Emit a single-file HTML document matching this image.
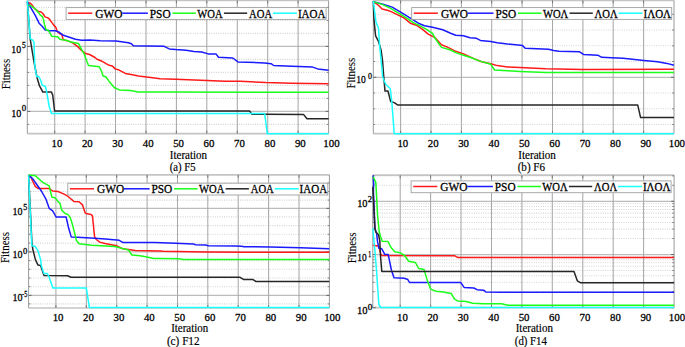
<!DOCTYPE html>
<html><head><meta charset="utf-8"><style>
html,body{margin:0;padding:0;background:#fff;}
body{width:685px;height:347px;overflow:hidden;font-family:"Liberation Serif",serif;}
svg{display:block;}
text{fill:#000;}
</style></head><body>
<svg width="685" height="347" viewBox="0 0 685 347" font-family='"Liberation Serif", serif'>
<rect width="685" height="347" fill="#fff"/>
<line x1="27.3" y1="124.4" x2="328.6" y2="124.4" stroke="#d0d0d0" stroke-width="1.1" stroke-dasharray="0.9 1.4"/>
<line x1="27.3" y1="98.4" x2="328.6" y2="98.4" stroke="#d0d0d0" stroke-width="1.1" stroke-dasharray="0.9 1.4"/>
<line x1="27.3" y1="85.4" x2="328.6" y2="85.4" stroke="#d0d0d0" stroke-width="1.1" stroke-dasharray="0.9 1.4"/>
<line x1="27.3" y1="72.4" x2="328.6" y2="72.4" stroke="#d0d0d0" stroke-width="1.1" stroke-dasharray="0.9 1.4"/>
<line x1="27.3" y1="59.4" x2="328.6" y2="59.4" stroke="#d0d0d0" stroke-width="1.1" stroke-dasharray="0.9 1.4"/>
<line x1="27.3" y1="33.4" x2="328.6" y2="33.4" stroke="#d0d0d0" stroke-width="1.1" stroke-dasharray="0.9 1.4"/>
<line x1="27.3" y1="20.4" x2="328.6" y2="20.4" stroke="#d0d0d0" stroke-width="1.1" stroke-dasharray="0.9 1.4"/>
<line x1="27.3" y1="7.4" x2="328.6" y2="7.4" stroke="#d0d0d0" stroke-width="1.1" stroke-dasharray="0.9 1.4"/>
<line x1="27.3" y1="111.4" x2="328.6" y2="111.4" stroke="#bcbcbc" stroke-width="1.25"/>
<line x1="27.3" y1="46.4" x2="328.6" y2="46.4" stroke="#bcbcbc" stroke-width="1.25"/>
<line x1="54.7" y1="0.4" x2="54.7" y2="133.6" stroke="#a8a8a8" stroke-width="1.05"/>
<line x1="85.1" y1="0.4" x2="85.1" y2="133.6" stroke="#a8a8a8" stroke-width="1.05"/>
<line x1="115.5" y1="0.4" x2="115.5" y2="133.6" stroke="#a8a8a8" stroke-width="1.05"/>
<line x1="146.0" y1="0.4" x2="146.0" y2="133.6" stroke="#a8a8a8" stroke-width="1.05"/>
<line x1="176.4" y1="0.4" x2="176.4" y2="133.6" stroke="#a8a8a8" stroke-width="1.05"/>
<line x1="206.8" y1="0.4" x2="206.8" y2="133.6" stroke="#a8a8a8" stroke-width="1.05"/>
<line x1="237.3" y1="0.4" x2="237.3" y2="133.6" stroke="#a8a8a8" stroke-width="1.05"/>
<line x1="267.7" y1="0.4" x2="267.7" y2="133.6" stroke="#a8a8a8" stroke-width="1.05"/>
<line x1="298.1" y1="0.4" x2="298.1" y2="133.6" stroke="#a8a8a8" stroke-width="1.05"/>
<line x1="27.3" y1="0.4" x2="328.6" y2="0.4" stroke="#c4c4c4" stroke-width="1.7"/>
<line x1="27.3" y1="133.6" x2="328.6" y2="133.6" stroke="#c4c4c4" stroke-width="1.7"/>
<line x1="27.3" y1="0.4" x2="27.3" y2="133.6" stroke="#9a9a9a" stroke-width="1"/>
<line x1="328.6" y1="0.4" x2="328.6" y2="133.6" stroke="#9a9a9a" stroke-width="1"/>
<line x1="27.3" y1="111.4" x2="30.3" y2="111.4" stroke="#666" stroke-width="1"/>
<line x1="325.6" y1="111.4" x2="328.6" y2="111.4" stroke="#666" stroke-width="1"/>
<line x1="27.3" y1="46.4" x2="30.3" y2="46.4" stroke="#666" stroke-width="1"/>
<line x1="325.6" y1="46.4" x2="328.6" y2="46.4" stroke="#666" stroke-width="1"/>
<line x1="27.3" y1="124.4" x2="29.1" y2="124.4" stroke="#777" stroke-width="0.9"/>
<line x1="326.8" y1="124.4" x2="328.6" y2="124.4" stroke="#777" stroke-width="0.9"/>
<line x1="27.3" y1="98.4" x2="29.1" y2="98.4" stroke="#777" stroke-width="0.9"/>
<line x1="326.8" y1="98.4" x2="328.6" y2="98.4" stroke="#777" stroke-width="0.9"/>
<line x1="27.3" y1="85.4" x2="29.1" y2="85.4" stroke="#777" stroke-width="0.9"/>
<line x1="326.8" y1="85.4" x2="328.6" y2="85.4" stroke="#777" stroke-width="0.9"/>
<line x1="27.3" y1="72.4" x2="29.1" y2="72.4" stroke="#777" stroke-width="0.9"/>
<line x1="326.8" y1="72.4" x2="328.6" y2="72.4" stroke="#777" stroke-width="0.9"/>
<line x1="27.3" y1="59.4" x2="29.1" y2="59.4" stroke="#777" stroke-width="0.9"/>
<line x1="326.8" y1="59.4" x2="328.6" y2="59.4" stroke="#777" stroke-width="0.9"/>
<line x1="27.3" y1="33.4" x2="29.1" y2="33.4" stroke="#777" stroke-width="0.9"/>
<line x1="326.8" y1="33.4" x2="328.6" y2="33.4" stroke="#777" stroke-width="0.9"/>
<line x1="27.3" y1="20.4" x2="29.1" y2="20.4" stroke="#777" stroke-width="0.9"/>
<line x1="326.8" y1="20.4" x2="328.6" y2="20.4" stroke="#777" stroke-width="0.9"/>
<line x1="27.3" y1="7.4" x2="29.1" y2="7.4" stroke="#777" stroke-width="0.9"/>
<line x1="326.8" y1="7.4" x2="328.6" y2="7.4" stroke="#777" stroke-width="0.9"/>
<line x1="54.7" y1="130.6" x2="54.7" y2="133.6" stroke="#777" stroke-width="1"/>
<line x1="54.7" y1="0.4" x2="54.7" y2="3.4" stroke="#777" stroke-width="1"/>
<line x1="85.1" y1="130.6" x2="85.1" y2="133.6" stroke="#777" stroke-width="1"/>
<line x1="85.1" y1="0.4" x2="85.1" y2="3.4" stroke="#777" stroke-width="1"/>
<line x1="115.5" y1="130.6" x2="115.5" y2="133.6" stroke="#777" stroke-width="1"/>
<line x1="115.5" y1="0.4" x2="115.5" y2="3.4" stroke="#777" stroke-width="1"/>
<line x1="146.0" y1="130.6" x2="146.0" y2="133.6" stroke="#777" stroke-width="1"/>
<line x1="146.0" y1="0.4" x2="146.0" y2="3.4" stroke="#777" stroke-width="1"/>
<line x1="176.4" y1="130.6" x2="176.4" y2="133.6" stroke="#777" stroke-width="1"/>
<line x1="176.4" y1="0.4" x2="176.4" y2="3.4" stroke="#777" stroke-width="1"/>
<line x1="206.8" y1="130.6" x2="206.8" y2="133.6" stroke="#777" stroke-width="1"/>
<line x1="206.8" y1="0.4" x2="206.8" y2="3.4" stroke="#777" stroke-width="1"/>
<line x1="237.3" y1="130.6" x2="237.3" y2="133.6" stroke="#777" stroke-width="1"/>
<line x1="237.3" y1="0.4" x2="237.3" y2="3.4" stroke="#777" stroke-width="1"/>
<line x1="267.7" y1="130.6" x2="267.7" y2="133.6" stroke="#777" stroke-width="1"/>
<line x1="267.7" y1="0.4" x2="267.7" y2="3.4" stroke="#777" stroke-width="1"/>
<line x1="298.1" y1="130.6" x2="298.1" y2="133.6" stroke="#777" stroke-width="1"/>
<line x1="298.1" y1="0.4" x2="298.1" y2="3.4" stroke="#777" stroke-width="1"/>
<polyline points="27.4,2.4 28.7,3.1 30.1,3.1 31.8,4.8 33.9,7.6 36.0,9.7 38.4,11.4 40.8,11.8 42.9,13.5 45.0,16.9 47.4,17.6 49.1,18.7 51.0,21.4 53.7,25.1 55.7,27.1 57.2,31.2 59.7,33.7 61.7,34.2 63.2,39.6 66.3,40.6 70.0,41.6 73.4,43.4 77.5,46.4 81.5,50.4 85.5,53.5 89.6,54.5 95.0,57.5 97.1,59.3 102.1,61.3 109.2,65.3 112.2,65.9 115.2,68.9 118.2,69.7 125.3,73.4 132.4,74.8 138.4,76.0 146.5,77.0 154.6,78.0 160.2,78.8 175.7,79.3 206.9,80.6 225.0,81.3 240.0,81.3 265.9,82.6 291.9,83.2 328.6,83.7" fill="none" stroke="#ff1a1a" stroke-width="1.5" stroke-linejoin="round" stroke-linecap="butt"/>
<polyline points="27.4,2.0 31.1,8.1 35.1,15.1 39.1,23.2 42.1,26.2 45.2,29.9 49.2,30.7 55.3,30.7 59.3,32.3 63.3,35.3 69.4,37.3 75.4,39.3 81.5,40.3 90.0,40.1 100.1,40.7 116.2,41.1 128.3,42.7 131.4,43.7 133.4,45.7 164.1,46.3 169.3,48.9 175.7,49.5 186.1,50.2 193.9,51.5 201.7,52.0 208.2,53.9 216.0,53.9 218.5,57.2 232.8,58.0 238.0,61.9 264.6,62.9 271.1,63.7 273.7,65.5 291.9,66.3 312.6,67.1 317.8,68.9 328.6,70.2" fill="none" stroke="#1a1aff" stroke-width="1.5" stroke-linejoin="round" stroke-linecap="butt"/>
<polyline points="27.4,4.5 28.4,5.2 30.5,5.5 33.2,7.3 36.0,9.7 38.4,12.4 40.1,14.9 42.6,16.9 43.6,20.1 44.5,24.5 46.1,29.7 48.1,30.2 50.1,33.2 51.6,36.2 57.7,36.7 59.7,39.3 62.2,39.8 66.3,40.3 70.0,41.8 73.4,42.4 78.5,43.4 81.5,49.4 84.5,54.5 86.5,60.5 88.5,65.6 95.0,66.2 99.1,66.7 101.1,70.3 103.1,76.0 105.7,76.8 109.2,81.4 114.2,87.5 119.3,89.9 130.3,90.5 138.4,91.9 160.0,92.1 328.6,92.2" fill="none" stroke="#1aff1a" stroke-width="1.5" stroke-linejoin="round" stroke-linecap="butt"/>
<polyline points="27.4,1.5 30.2,39.2 34.2,63.0 37.1,77.7 39.4,85.7 42.9,92.1 51.5,92.1 52.7,95.0 54.6,111.0 249.6,111.0 251.8,114.2 264.6,114.3 303.7,114.6 307.0,118.8 328.6,118.8" fill="none" stroke="#262626" stroke-width="1.5" stroke-linejoin="round" stroke-linecap="butt"/>
<polyline points="27.3,0.6 30.2,38.6 33.1,40.4 34.0,42.7 34.8,65.0 36.5,76.5 38.8,76.5 40.6,80.0 42.3,85.2 45.2,86.3 46.3,89.8 49.2,106.5 51.5,113.6 264.7,113.6 267.3,133.8 328.6,133.8" fill="none" stroke="#1affff" stroke-width="1.5" stroke-linejoin="round" stroke-linecap="butt"/>
<rect x="66.1" y="7.6" width="260.0" height="11.8" fill="#fff" stroke="#a0a0a0" stroke-width="0.9"/>
<line x1="68.2" y1="13.2" x2="92.3" y2="13.2" stroke="#ff1a1a" stroke-width="1.5"/>
<line x1="122.3" y1="13.2" x2="147.9" y2="13.2" stroke="#1a1aff" stroke-width="1.5"/>
<line x1="172.4" y1="13.2" x2="195.9" y2="13.2" stroke="#1aff1a" stroke-width="1.5"/>
<line x1="223.9" y1="13.2" x2="247.2" y2="13.2" stroke="#262626" stroke-width="1.5"/>
<line x1="273.0" y1="13.2" x2="296.9" y2="13.2" stroke="#1affff" stroke-width="1.5"/>
<text x="95.3" y="17.7" font-size="11.5" font-weight="normal" textLength="27.2" lengthAdjust="spacingAndGlyphs" stroke="#000" stroke-width="0.28">GWO</text>
<text x="149.8" y="17.7" font-size="11.5" font-weight="normal" textLength="20.8" lengthAdjust="spacingAndGlyphs" stroke="#000" stroke-width="0.28">PSO</text>
<text x="197.3" y="17.7" font-size="11.5" font-weight="normal" textLength="25.3" lengthAdjust="spacingAndGlyphs" stroke="#000" stroke-width="0.28">WOA</text>
<text x="249.0" y="17.7" font-size="11.5" font-weight="normal" textLength="23.1" lengthAdjust="spacingAndGlyphs" stroke="#000" stroke-width="0.28">AOA</text>
<text x="297.9" y="17.7" font-size="11.5" font-weight="normal" textLength="27.6" lengthAdjust="spacingAndGlyphs" stroke="#000" stroke-width="0.28">IAOA</text>
<text x="56.9" y="147.0" font-size="11.0" font-weight="normal" text-anchor="middle" textLength="10.8" lengthAdjust="spacingAndGlyphs" stroke="#000" stroke-width="0.28">10</text>
<text x="87.3" y="147.0" font-size="11.0" font-weight="normal" text-anchor="middle" textLength="10.8" lengthAdjust="spacingAndGlyphs" stroke="#000" stroke-width="0.28">20</text>
<text x="117.7" y="147.0" font-size="11.0" font-weight="normal" text-anchor="middle" textLength="10.8" lengthAdjust="spacingAndGlyphs" stroke="#000" stroke-width="0.28">30</text>
<text x="148.2" y="147.0" font-size="11.0" font-weight="normal" text-anchor="middle" textLength="10.8" lengthAdjust="spacingAndGlyphs" stroke="#000" stroke-width="0.28">40</text>
<text x="178.6" y="147.0" font-size="11.0" font-weight="normal" text-anchor="middle" textLength="10.8" lengthAdjust="spacingAndGlyphs" stroke="#000" stroke-width="0.28">50</text>
<text x="209.0" y="147.0" font-size="11.0" font-weight="normal" text-anchor="middle" textLength="10.8" lengthAdjust="spacingAndGlyphs" stroke="#000" stroke-width="0.28">60</text>
<text x="239.5" y="147.0" font-size="11.0" font-weight="normal" text-anchor="middle" textLength="10.8" lengthAdjust="spacingAndGlyphs" stroke="#000" stroke-width="0.28">70</text>
<text x="269.9" y="147.0" font-size="11.0" font-weight="normal" text-anchor="middle" textLength="10.8" lengthAdjust="spacingAndGlyphs" stroke="#000" stroke-width="0.28">80</text>
<text x="300.3" y="147.0" font-size="11.0" font-weight="normal" text-anchor="middle" textLength="10.8" lengthAdjust="spacingAndGlyphs" stroke="#000" stroke-width="0.28">90</text>
<text x="331.5" y="147.0" font-size="11.0" font-weight="normal" text-anchor="middle" textLength="16.3" lengthAdjust="spacingAndGlyphs" stroke="#000" stroke-width="0.28">100</text>
<text x="11.3" y="52.7" font-size="11.0" font-weight="normal" textLength="9.8" lengthAdjust="spacingAndGlyphs" stroke="#000" stroke-width="0.28">10</text>
<text x="22.1" y="48.1" font-size="8.0" font-weight="normal" textLength="3.8" lengthAdjust="spacingAndGlyphs" stroke="#000" stroke-width="0.28">5</text>
<text x="11.3" y="117.0" font-size="11.0" font-weight="normal" textLength="10.1" lengthAdjust="spacingAndGlyphs" stroke="#000" stroke-width="0.28">10</text>
<text x="21.8" y="110.7" font-size="8.0" font-weight="normal" textLength="4.4" lengthAdjust="spacingAndGlyphs" stroke="#000" stroke-width="0.28">0</text>
<text x="0" y="0" font-size="11.5" stroke="#000" stroke-width="0.12" text-anchor="middle" textLength="30.5" lengthAdjust="spacingAndGlyphs" transform="translate(10.4,74.0) rotate(-90)">Fitness</text>
<text x="169.8" y="158.8" font-size="11.5" font-weight="normal" textLength="37.3" lengthAdjust="spacingAndGlyphs" stroke="#000" stroke-width="0.18">Iteration</text>
<text x="169.8" y="171.0" font-size="11.5" font-weight="normal" textLength="25.8" lengthAdjust="spacingAndGlyphs" stroke="#000" stroke-width="0.18">(a) F5</text>
<line x1="373.3" y1="124.5" x2="674.0" y2="124.5" stroke="#d0d0d0" stroke-width="1.1" stroke-dasharray="0.9 1.4"/>
<line x1="373.3" y1="108.8" x2="674.0" y2="108.8" stroke="#d0d0d0" stroke-width="1.1" stroke-dasharray="0.9 1.4"/>
<line x1="373.3" y1="93.0" x2="674.0" y2="93.0" stroke="#d0d0d0" stroke-width="1.1" stroke-dasharray="0.9 1.4"/>
<line x1="373.3" y1="61.5" x2="674.0" y2="61.5" stroke="#d0d0d0" stroke-width="1.1" stroke-dasharray="0.9 1.4"/>
<line x1="373.3" y1="45.8" x2="674.0" y2="45.8" stroke="#d0d0d0" stroke-width="1.1" stroke-dasharray="0.9 1.4"/>
<line x1="373.3" y1="30.0" x2="674.0" y2="30.0" stroke="#d0d0d0" stroke-width="1.1" stroke-dasharray="0.9 1.4"/>
<line x1="373.3" y1="14.3" x2="674.0" y2="14.3" stroke="#d0d0d0" stroke-width="1.1" stroke-dasharray="0.9 1.4"/>
<line x1="373.3" y1="77.3" x2="674.0" y2="77.3" stroke="#bcbcbc" stroke-width="1.25"/>
<line x1="400.6" y1="0.4" x2="400.6" y2="133.7" stroke="#a8a8a8" stroke-width="1.05"/>
<line x1="431.0" y1="0.4" x2="431.0" y2="133.7" stroke="#a8a8a8" stroke-width="1.05"/>
<line x1="461.4" y1="0.4" x2="461.4" y2="133.7" stroke="#a8a8a8" stroke-width="1.05"/>
<line x1="491.7" y1="0.4" x2="491.7" y2="133.7" stroke="#a8a8a8" stroke-width="1.05"/>
<line x1="522.1" y1="0.4" x2="522.1" y2="133.7" stroke="#a8a8a8" stroke-width="1.05"/>
<line x1="552.5" y1="0.4" x2="552.5" y2="133.7" stroke="#a8a8a8" stroke-width="1.05"/>
<line x1="582.9" y1="0.4" x2="582.9" y2="133.7" stroke="#a8a8a8" stroke-width="1.05"/>
<line x1="613.2" y1="0.4" x2="613.2" y2="133.7" stroke="#a8a8a8" stroke-width="1.05"/>
<line x1="643.6" y1="0.4" x2="643.6" y2="133.7" stroke="#a8a8a8" stroke-width="1.05"/>
<line x1="373.3" y1="0.4" x2="674.0" y2="0.4" stroke="#c4c4c4" stroke-width="1.7"/>
<line x1="373.3" y1="133.7" x2="674.0" y2="133.7" stroke="#c4c4c4" stroke-width="1.7"/>
<line x1="373.3" y1="0.4" x2="373.3" y2="133.7" stroke="#9a9a9a" stroke-width="1"/>
<line x1="674.0" y1="0.4" x2="674.0" y2="133.7" stroke="#9a9a9a" stroke-width="1"/>
<line x1="373.3" y1="77.3" x2="376.3" y2="77.3" stroke="#666" stroke-width="1"/>
<line x1="671.0" y1="77.3" x2="674.0" y2="77.3" stroke="#666" stroke-width="1"/>
<line x1="373.3" y1="124.5" x2="375.1" y2="124.5" stroke="#777" stroke-width="0.9"/>
<line x1="672.2" y1="124.5" x2="674.0" y2="124.5" stroke="#777" stroke-width="0.9"/>
<line x1="373.3" y1="108.8" x2="375.1" y2="108.8" stroke="#777" stroke-width="0.9"/>
<line x1="672.2" y1="108.8" x2="674.0" y2="108.8" stroke="#777" stroke-width="0.9"/>
<line x1="373.3" y1="93.0" x2="375.1" y2="93.0" stroke="#777" stroke-width="0.9"/>
<line x1="672.2" y1="93.0" x2="674.0" y2="93.0" stroke="#777" stroke-width="0.9"/>
<line x1="373.3" y1="61.5" x2="375.1" y2="61.5" stroke="#777" stroke-width="0.9"/>
<line x1="672.2" y1="61.5" x2="674.0" y2="61.5" stroke="#777" stroke-width="0.9"/>
<line x1="373.3" y1="45.8" x2="375.1" y2="45.8" stroke="#777" stroke-width="0.9"/>
<line x1="672.2" y1="45.8" x2="674.0" y2="45.8" stroke="#777" stroke-width="0.9"/>
<line x1="373.3" y1="30.0" x2="375.1" y2="30.0" stroke="#777" stroke-width="0.9"/>
<line x1="672.2" y1="30.0" x2="674.0" y2="30.0" stroke="#777" stroke-width="0.9"/>
<line x1="373.3" y1="14.3" x2="375.1" y2="14.3" stroke="#777" stroke-width="0.9"/>
<line x1="672.2" y1="14.3" x2="674.0" y2="14.3" stroke="#777" stroke-width="0.9"/>
<line x1="400.6" y1="130.7" x2="400.6" y2="133.7" stroke="#777" stroke-width="1"/>
<line x1="400.6" y1="0.4" x2="400.6" y2="3.4" stroke="#777" stroke-width="1"/>
<line x1="431.0" y1="130.7" x2="431.0" y2="133.7" stroke="#777" stroke-width="1"/>
<line x1="431.0" y1="0.4" x2="431.0" y2="3.4" stroke="#777" stroke-width="1"/>
<line x1="461.4" y1="130.7" x2="461.4" y2="133.7" stroke="#777" stroke-width="1"/>
<line x1="461.4" y1="0.4" x2="461.4" y2="3.4" stroke="#777" stroke-width="1"/>
<line x1="491.7" y1="130.7" x2="491.7" y2="133.7" stroke="#777" stroke-width="1"/>
<line x1="491.7" y1="0.4" x2="491.7" y2="3.4" stroke="#777" stroke-width="1"/>
<line x1="522.1" y1="130.7" x2="522.1" y2="133.7" stroke="#777" stroke-width="1"/>
<line x1="522.1" y1="0.4" x2="522.1" y2="3.4" stroke="#777" stroke-width="1"/>
<line x1="552.5" y1="130.7" x2="552.5" y2="133.7" stroke="#777" stroke-width="1"/>
<line x1="552.5" y1="0.4" x2="552.5" y2="3.4" stroke="#777" stroke-width="1"/>
<line x1="582.9" y1="130.7" x2="582.9" y2="133.7" stroke="#777" stroke-width="1"/>
<line x1="582.9" y1="0.4" x2="582.9" y2="3.4" stroke="#777" stroke-width="1"/>
<line x1="613.2" y1="130.7" x2="613.2" y2="133.7" stroke="#777" stroke-width="1"/>
<line x1="613.2" y1="0.4" x2="613.2" y2="3.4" stroke="#777" stroke-width="1"/>
<line x1="643.6" y1="130.7" x2="643.6" y2="133.7" stroke="#777" stroke-width="1"/>
<line x1="643.6" y1="0.4" x2="643.6" y2="3.4" stroke="#777" stroke-width="1"/>
<polyline points="373.3,1.6 378.1,5.0 382.1,9.1 388.2,10.5 392.2,12.1 400.3,16.1 404.3,18.2 410.3,23.2 416.4,25.2 422.5,29.3 428.5,34.3 434.6,37.3 441.5,44.8 448.0,47.4 455.7,51.3 463.5,53.9 473.9,58.6 481.7,61.7 490.8,63.8 497.2,65.6 507.6,66.9 520.0,67.4 545.9,68.7 582.2,69.5 674.0,69.3" fill="none" stroke="#ff1a1a" stroke-width="1.5" stroke-linejoin="round" stroke-linecap="butt"/>
<polyline points="373.3,1.6 382.1,4.0 392.2,7.1 402.3,13.1 410.3,18.2 418.4,23.2 424.5,25.8 432.5,27.2 442.8,29.8 450.6,33.2 455.7,35.2 463.5,35.7 470.0,37.8 476.5,38.3 480.4,40.4 490.8,41.5 497.2,42.7 507.6,44.0 520.6,45.3 522.6,45.6 525.2,48.2 548.5,49.2 553.7,50.5 558.9,51.3 579.6,51.8 583.5,54.4 597.8,55.2 601.7,57.3 611.5,57.7 623.1,58.3 634.6,59.5 643.8,60.4 657.6,61.8 666.9,63.4 674.0,65.3" fill="none" stroke="#1a1aff" stroke-width="1.5" stroke-linejoin="round" stroke-linecap="butt"/>
<polyline points="373.3,1.6 382.1,4.4 390.2,8.1 400.3,14.1 408.3,19.2 412.4,22.2 418.4,25.2 426.5,29.3 432.5,33.3 435.0,38.3 441.5,47.4 450.6,50.0 455.7,52.6 463.5,55.2 471.3,57.8 479.1,60.9 490.8,64.3 494.6,70.0 507.6,70.8 520.0,71.5 545.9,72.4 674.0,72.4" fill="none" stroke="#1aff1a" stroke-width="1.5" stroke-linejoin="round" stroke-linecap="butt"/>
<polyline points="373.3,1.0 374.0,20.1 375.6,35.8 378.5,41.3 381.1,50.3 382.5,60.4 383.8,77.3 385.0,91.1 388.0,91.1 390.7,101.5 394.2,102.6 397.6,104.9 637.7,104.9 640.6,117.6 674.0,117.6" fill="none" stroke="#262626" stroke-width="1.5" stroke-linejoin="round" stroke-linecap="butt"/>
<polyline points="373.3,1.0 376.0,22.1 378.5,28.2 379.7,46.3 381.1,60.4 382.7,77.3 385.7,84.2 390.3,88.8 391.9,102.6 394.2,133.7 674.0,133.7" fill="none" stroke="#1affff" stroke-width="1.5" stroke-linejoin="round" stroke-linecap="butt"/>
<rect x="411.7" y="7.6" width="260.0" height="11.8" fill="#fff" stroke="#a0a0a0" stroke-width="0.9"/>
<line x1="413.8" y1="13.2" x2="437.9" y2="13.2" stroke="#ff1a1a" stroke-width="1.5"/>
<line x1="467.9" y1="13.2" x2="493.5" y2="13.2" stroke="#1a1aff" stroke-width="1.5"/>
<line x1="518.0" y1="13.2" x2="541.5" y2="13.2" stroke="#1aff1a" stroke-width="1.5"/>
<line x1="569.5" y1="13.2" x2="592.8" y2="13.2" stroke="#262626" stroke-width="1.5"/>
<line x1="618.6" y1="13.2" x2="642.5" y2="13.2" stroke="#1affff" stroke-width="1.5"/>
<text x="440.9" y="17.7" font-size="11.5" font-weight="normal" textLength="27.2" lengthAdjust="spacingAndGlyphs" stroke="#000" stroke-width="0.28">GWO</text>
<text x="495.4" y="17.7" font-size="11.5" font-weight="normal" textLength="20.8" lengthAdjust="spacingAndGlyphs" stroke="#000" stroke-width="0.28">PSO</text>
<text x="542.9" y="17.7" font-size="11.5" font-weight="normal" textLength="25.3" lengthAdjust="spacingAndGlyphs" stroke="#000" stroke-width="0.28">WO&#923;</text>
<text x="594.6" y="17.7" font-size="11.5" font-weight="normal" textLength="23.1" lengthAdjust="spacingAndGlyphs" stroke="#000" stroke-width="0.28">&#923;O&#923;</text>
<text x="643.5" y="17.7" font-size="11.5" font-weight="normal" textLength="27.6" lengthAdjust="spacingAndGlyphs" stroke="#000" stroke-width="0.28">I&#923;O&#923;</text>
<text x="402.8" y="147.0" font-size="11.0" font-weight="normal" text-anchor="middle" textLength="10.8" lengthAdjust="spacingAndGlyphs" stroke="#000" stroke-width="0.28">10</text>
<text x="433.2" y="147.0" font-size="11.0" font-weight="normal" text-anchor="middle" textLength="10.8" lengthAdjust="spacingAndGlyphs" stroke="#000" stroke-width="0.28">20</text>
<text x="463.6" y="147.0" font-size="11.0" font-weight="normal" text-anchor="middle" textLength="10.8" lengthAdjust="spacingAndGlyphs" stroke="#000" stroke-width="0.28">30</text>
<text x="493.9" y="147.0" font-size="11.0" font-weight="normal" text-anchor="middle" textLength="10.8" lengthAdjust="spacingAndGlyphs" stroke="#000" stroke-width="0.28">40</text>
<text x="524.3" y="147.0" font-size="11.0" font-weight="normal" text-anchor="middle" textLength="10.8" lengthAdjust="spacingAndGlyphs" stroke="#000" stroke-width="0.28">50</text>
<text x="554.7" y="147.0" font-size="11.0" font-weight="normal" text-anchor="middle" textLength="10.8" lengthAdjust="spacingAndGlyphs" stroke="#000" stroke-width="0.28">60</text>
<text x="585.1" y="147.0" font-size="11.0" font-weight="normal" text-anchor="middle" textLength="10.8" lengthAdjust="spacingAndGlyphs" stroke="#000" stroke-width="0.28">70</text>
<text x="615.4" y="147.0" font-size="11.0" font-weight="normal" text-anchor="middle" textLength="10.8" lengthAdjust="spacingAndGlyphs" stroke="#000" stroke-width="0.28">80</text>
<text x="645.8" y="147.0" font-size="11.0" font-weight="normal" text-anchor="middle" textLength="10.8" lengthAdjust="spacingAndGlyphs" stroke="#000" stroke-width="0.28">90</text>
<text x="676.9" y="147.0" font-size="11.0" font-weight="normal" text-anchor="middle" textLength="16.3" lengthAdjust="spacingAndGlyphs" stroke="#000" stroke-width="0.28">100</text>
<text x="356.2" y="82.9" font-size="11.0" font-weight="normal" textLength="9.5" lengthAdjust="spacingAndGlyphs" stroke="#000" stroke-width="0.28">10</text>
<text x="367.9" y="78.5" font-size="8.0" font-weight="normal" textLength="4.0" lengthAdjust="spacingAndGlyphs" stroke="#000" stroke-width="0.28">0</text>
<text x="0" y="0" font-size="11.5" stroke="#000" stroke-width="0.12" text-anchor="middle" textLength="30.7" lengthAdjust="spacingAndGlyphs" transform="translate(355.1,73.2) rotate(-90)">Fitness</text>
<text x="518.2" y="158.8" font-size="11.5" font-weight="normal" textLength="37.7" lengthAdjust="spacingAndGlyphs" stroke="#000" stroke-width="0.18">Iteration</text>
<text x="517.7" y="171.0" font-size="11.5" font-weight="normal" textLength="27.3" lengthAdjust="spacingAndGlyphs" stroke="#000" stroke-width="0.18">(b) F6</text>
<line x1="28.6" y1="182.9" x2="329.4" y2="182.9" stroke="#d0d0d0" stroke-width="1.1" stroke-dasharray="0.9 1.4"/>
<line x1="28.6" y1="191.5" x2="329.4" y2="191.5" stroke="#d0d0d0" stroke-width="1.1" stroke-dasharray="0.9 1.4"/>
<line x1="28.6" y1="200.1" x2="329.4" y2="200.1" stroke="#d0d0d0" stroke-width="1.1" stroke-dasharray="0.9 1.4"/>
<line x1="28.6" y1="216.9" x2="329.4" y2="216.9" stroke="#d0d0d0" stroke-width="1.1" stroke-dasharray="0.9 1.4"/>
<line x1="28.6" y1="225.6" x2="329.4" y2="225.6" stroke="#d0d0d0" stroke-width="1.1" stroke-dasharray="0.9 1.4"/>
<line x1="28.6" y1="234.3" x2="329.4" y2="234.3" stroke="#d0d0d0" stroke-width="1.1" stroke-dasharray="0.9 1.4"/>
<line x1="28.6" y1="243.1" x2="329.4" y2="243.1" stroke="#d0d0d0" stroke-width="1.1" stroke-dasharray="0.9 1.4"/>
<line x1="28.6" y1="260.6" x2="329.4" y2="260.6" stroke="#d0d0d0" stroke-width="1.1" stroke-dasharray="0.9 1.4"/>
<line x1="28.6" y1="269.3" x2="329.4" y2="269.3" stroke="#d0d0d0" stroke-width="1.1" stroke-dasharray="0.9 1.4"/>
<line x1="28.6" y1="278.0" x2="329.4" y2="278.0" stroke="#d0d0d0" stroke-width="1.1" stroke-dasharray="0.9 1.4"/>
<line x1="28.6" y1="286.7" x2="329.4" y2="286.7" stroke="#d0d0d0" stroke-width="1.1" stroke-dasharray="0.9 1.4"/>
<line x1="28.6" y1="303.9" x2="329.4" y2="303.9" stroke="#d0d0d0" stroke-width="1.1" stroke-dasharray="0.9 1.4"/>
<line x1="28.6" y1="295.4" x2="329.4" y2="295.4" stroke="#bcbcbc" stroke-width="1.25"/>
<line x1="28.6" y1="251.9" x2="329.4" y2="251.9" stroke="#bcbcbc" stroke-width="1.25"/>
<line x1="28.6" y1="208.4" x2="329.4" y2="208.4" stroke="#bcbcbc" stroke-width="1.25"/>
<line x1="55.9" y1="174.8" x2="55.9" y2="308.0" stroke="#a8a8a8" stroke-width="1.05"/>
<line x1="86.3" y1="174.8" x2="86.3" y2="308.0" stroke="#a8a8a8" stroke-width="1.05"/>
<line x1="116.7" y1="174.8" x2="116.7" y2="308.0" stroke="#a8a8a8" stroke-width="1.05"/>
<line x1="147.1" y1="174.8" x2="147.1" y2="308.0" stroke="#a8a8a8" stroke-width="1.05"/>
<line x1="177.5" y1="174.8" x2="177.5" y2="308.0" stroke="#a8a8a8" stroke-width="1.05"/>
<line x1="207.8" y1="174.8" x2="207.8" y2="308.0" stroke="#a8a8a8" stroke-width="1.05"/>
<line x1="238.2" y1="174.8" x2="238.2" y2="308.0" stroke="#a8a8a8" stroke-width="1.05"/>
<line x1="268.6" y1="174.8" x2="268.6" y2="308.0" stroke="#a8a8a8" stroke-width="1.05"/>
<line x1="299.0" y1="174.8" x2="299.0" y2="308.0" stroke="#a8a8a8" stroke-width="1.05"/>
<line x1="28.6" y1="174.8" x2="329.4" y2="174.8" stroke="#c4c4c4" stroke-width="1.7"/>
<line x1="28.6" y1="308.0" x2="329.4" y2="308.0" stroke="#c4c4c4" stroke-width="1.7"/>
<line x1="28.6" y1="174.8" x2="28.6" y2="308.0" stroke="#9a9a9a" stroke-width="1"/>
<line x1="329.4" y1="174.8" x2="329.4" y2="308.0" stroke="#9a9a9a" stroke-width="1"/>
<line x1="28.6" y1="295.4" x2="31.6" y2="295.4" stroke="#666" stroke-width="1"/>
<line x1="326.4" y1="295.4" x2="329.4" y2="295.4" stroke="#666" stroke-width="1"/>
<line x1="28.6" y1="251.9" x2="31.6" y2="251.9" stroke="#666" stroke-width="1"/>
<line x1="326.4" y1="251.9" x2="329.4" y2="251.9" stroke="#666" stroke-width="1"/>
<line x1="28.6" y1="208.4" x2="31.6" y2="208.4" stroke="#666" stroke-width="1"/>
<line x1="326.4" y1="208.4" x2="329.4" y2="208.4" stroke="#666" stroke-width="1"/>
<line x1="28.6" y1="182.9" x2="30.4" y2="182.9" stroke="#777" stroke-width="0.9"/>
<line x1="327.6" y1="182.9" x2="329.4" y2="182.9" stroke="#777" stroke-width="0.9"/>
<line x1="28.6" y1="191.5" x2="30.4" y2="191.5" stroke="#777" stroke-width="0.9"/>
<line x1="327.6" y1="191.5" x2="329.4" y2="191.5" stroke="#777" stroke-width="0.9"/>
<line x1="28.6" y1="200.1" x2="30.4" y2="200.1" stroke="#777" stroke-width="0.9"/>
<line x1="327.6" y1="200.1" x2="329.4" y2="200.1" stroke="#777" stroke-width="0.9"/>
<line x1="28.6" y1="216.9" x2="30.4" y2="216.9" stroke="#777" stroke-width="0.9"/>
<line x1="327.6" y1="216.9" x2="329.4" y2="216.9" stroke="#777" stroke-width="0.9"/>
<line x1="28.6" y1="225.6" x2="30.4" y2="225.6" stroke="#777" stroke-width="0.9"/>
<line x1="327.6" y1="225.6" x2="329.4" y2="225.6" stroke="#777" stroke-width="0.9"/>
<line x1="28.6" y1="234.3" x2="30.4" y2="234.3" stroke="#777" stroke-width="0.9"/>
<line x1="327.6" y1="234.3" x2="329.4" y2="234.3" stroke="#777" stroke-width="0.9"/>
<line x1="28.6" y1="243.1" x2="30.4" y2="243.1" stroke="#777" stroke-width="0.9"/>
<line x1="327.6" y1="243.1" x2="329.4" y2="243.1" stroke="#777" stroke-width="0.9"/>
<line x1="28.6" y1="260.6" x2="30.4" y2="260.6" stroke="#777" stroke-width="0.9"/>
<line x1="327.6" y1="260.6" x2="329.4" y2="260.6" stroke="#777" stroke-width="0.9"/>
<line x1="28.6" y1="269.3" x2="30.4" y2="269.3" stroke="#777" stroke-width="0.9"/>
<line x1="327.6" y1="269.3" x2="329.4" y2="269.3" stroke="#777" stroke-width="0.9"/>
<line x1="28.6" y1="278.0" x2="30.4" y2="278.0" stroke="#777" stroke-width="0.9"/>
<line x1="327.6" y1="278.0" x2="329.4" y2="278.0" stroke="#777" stroke-width="0.9"/>
<line x1="28.6" y1="286.7" x2="30.4" y2="286.7" stroke="#777" stroke-width="0.9"/>
<line x1="327.6" y1="286.7" x2="329.4" y2="286.7" stroke="#777" stroke-width="0.9"/>
<line x1="28.6" y1="303.9" x2="30.4" y2="303.9" stroke="#777" stroke-width="0.9"/>
<line x1="327.6" y1="303.9" x2="329.4" y2="303.9" stroke="#777" stroke-width="0.9"/>
<line x1="55.9" y1="305.0" x2="55.9" y2="308.0" stroke="#777" stroke-width="1"/>
<line x1="55.9" y1="174.8" x2="55.9" y2="177.8" stroke="#777" stroke-width="1"/>
<line x1="86.3" y1="305.0" x2="86.3" y2="308.0" stroke="#777" stroke-width="1"/>
<line x1="86.3" y1="174.8" x2="86.3" y2="177.8" stroke="#777" stroke-width="1"/>
<line x1="116.7" y1="305.0" x2="116.7" y2="308.0" stroke="#777" stroke-width="1"/>
<line x1="116.7" y1="174.8" x2="116.7" y2="177.8" stroke="#777" stroke-width="1"/>
<line x1="147.1" y1="305.0" x2="147.1" y2="308.0" stroke="#777" stroke-width="1"/>
<line x1="147.1" y1="174.8" x2="147.1" y2="177.8" stroke="#777" stroke-width="1"/>
<line x1="177.5" y1="305.0" x2="177.5" y2="308.0" stroke="#777" stroke-width="1"/>
<line x1="177.5" y1="174.8" x2="177.5" y2="177.8" stroke="#777" stroke-width="1"/>
<line x1="207.8" y1="305.0" x2="207.8" y2="308.0" stroke="#777" stroke-width="1"/>
<line x1="207.8" y1="174.8" x2="207.8" y2="177.8" stroke="#777" stroke-width="1"/>
<line x1="238.2" y1="305.0" x2="238.2" y2="308.0" stroke="#777" stroke-width="1"/>
<line x1="238.2" y1="174.8" x2="238.2" y2="177.8" stroke="#777" stroke-width="1"/>
<line x1="268.6" y1="305.0" x2="268.6" y2="308.0" stroke="#777" stroke-width="1"/>
<line x1="268.6" y1="174.8" x2="268.6" y2="177.8" stroke="#777" stroke-width="1"/>
<line x1="299.0" y1="305.0" x2="299.0" y2="308.0" stroke="#777" stroke-width="1"/>
<line x1="299.0" y1="174.8" x2="299.0" y2="177.8" stroke="#777" stroke-width="1"/>
<polyline points="28.6,175.1 31.1,177.2 32.8,181.5 35.4,186.7 38.0,188.4 49.2,188.4 52.7,191.0 57.9,191.5 63.0,193.6 67.8,196.2 70.4,198.5 73.8,201.4 79.0,201.8 82.5,204.9 85.1,212.7 86.0,213.5 91.1,214.4 92.5,216.1 94.6,236.9 96.3,239.5 99.8,242.1 105.0,243.5 110.0,244.4 116.9,245.8 122.7,248.8 128.4,249.5 135.3,250.4 160.0,251.1 163.1,251.3 205.4,251.9 245.0,252.3 329.3,252.3" fill="none" stroke="#ff1a1a" stroke-width="1.5" stroke-linejoin="round" stroke-linecap="butt"/>
<polyline points="28.6,175.1 32.8,178.9 37.1,185.0 41.4,191.0 45.8,198.8 49.2,208.3 52.7,210.9 56.1,217.0 66.1,217.0 68.7,228.3 71.2,236.9 77.3,237.2 94.6,238.3 105.4,238.9 119.2,240.3 122.7,242.4 155.0,242.4 175.2,243.2 193.3,243.9 195.4,244.7 205.4,244.9 208.5,245.7 235.7,245.9 241.8,246.3 244.0,246.7 270.3,246.9 300.5,247.7 329.3,248.7" fill="none" stroke="#1a1aff" stroke-width="1.5" stroke-linejoin="round" stroke-linecap="butt"/>
<polyline points="28.6,175.1 35.4,175.8 38.8,178.9 43.2,182.7 49.2,185.8 51.8,197.1 55.3,197.9 57.9,201.4 60.0,203.2 61.7,210.1 65.2,213.5 67.8,214.4 70.4,217.9 73.0,226.5 74.7,233.4 76.4,240.4 79.0,243.8 87.7,244.7 91.5,245.3 114.6,246.5 128.4,249.9 131.9,255.0 140.0,255.7 146.9,256.9 153.8,258.5 160.0,258.6 179.2,258.8 183.2,259.4 329.3,259.6" fill="none" stroke="#1aff1a" stroke-width="1.5" stroke-linejoin="round" stroke-linecap="butt"/>
<polyline points="28.6,175.1 31.9,242.3 32.8,249.2 35.4,259.6 38.0,265.1 40.6,265.6 44.0,275.5 67.6,275.7 71.0,277.2 239.7,277.2 243.8,279.6 253.1,279.6 256.1,281.6 329.3,281.6" fill="none" stroke="#262626" stroke-width="1.5" stroke-linejoin="round" stroke-linecap="butt"/>
<polyline points="28.6,175.1 31.3,235.0 31.9,245.8 35.4,246.6 38.0,250.9 40.6,259.6 41.2,265.0 43.8,273.4 47.0,273.4 49.0,276.7 52.9,288.1 86.3,288.1 89.4,307.6 329.3,307.6" fill="none" stroke="#1affff" stroke-width="1.5" stroke-linejoin="round" stroke-linecap="butt"/>
<rect x="67.8" y="183.2" width="260.0" height="11.8" fill="#fff" stroke="#a0a0a0" stroke-width="0.9"/>
<line x1="69.9" y1="188.8" x2="94.0" y2="188.8" stroke="#ff1a1a" stroke-width="1.5"/>
<line x1="124.0" y1="188.8" x2="149.6" y2="188.8" stroke="#1a1aff" stroke-width="1.5"/>
<line x1="174.1" y1="188.8" x2="197.6" y2="188.8" stroke="#1aff1a" stroke-width="1.5"/>
<line x1="225.6" y1="188.8" x2="248.9" y2="188.8" stroke="#262626" stroke-width="1.5"/>
<line x1="274.7" y1="188.8" x2="298.6" y2="188.8" stroke="#1affff" stroke-width="1.5"/>
<text x="97.0" y="193.3" font-size="11.5" font-weight="normal" textLength="27.2" lengthAdjust="spacingAndGlyphs" stroke="#000" stroke-width="0.28">GWO</text>
<text x="151.5" y="193.3" font-size="11.5" font-weight="normal" textLength="20.8" lengthAdjust="spacingAndGlyphs" stroke="#000" stroke-width="0.28">PSO</text>
<text x="199.0" y="193.3" font-size="11.5" font-weight="normal" textLength="25.3" lengthAdjust="spacingAndGlyphs" stroke="#000" stroke-width="0.28">WOA</text>
<text x="250.7" y="193.3" font-size="11.5" font-weight="normal" textLength="23.1" lengthAdjust="spacingAndGlyphs" stroke="#000" stroke-width="0.28">AOA</text>
<text x="299.6" y="193.3" font-size="11.5" font-weight="normal" textLength="27.6" lengthAdjust="spacingAndGlyphs" stroke="#000" stroke-width="0.28">IAOA</text>
<text x="58.1" y="321.3" font-size="11.0" font-weight="normal" text-anchor="middle" textLength="10.8" lengthAdjust="spacingAndGlyphs" stroke="#000" stroke-width="0.28">10</text>
<text x="88.5" y="321.3" font-size="11.0" font-weight="normal" text-anchor="middle" textLength="10.8" lengthAdjust="spacingAndGlyphs" stroke="#000" stroke-width="0.28">20</text>
<text x="118.9" y="321.3" font-size="11.0" font-weight="normal" text-anchor="middle" textLength="10.8" lengthAdjust="spacingAndGlyphs" stroke="#000" stroke-width="0.28">30</text>
<text x="149.3" y="321.3" font-size="11.0" font-weight="normal" text-anchor="middle" textLength="10.8" lengthAdjust="spacingAndGlyphs" stroke="#000" stroke-width="0.28">40</text>
<text x="179.7" y="321.3" font-size="11.0" font-weight="normal" text-anchor="middle" textLength="10.8" lengthAdjust="spacingAndGlyphs" stroke="#000" stroke-width="0.28">50</text>
<text x="210.0" y="321.3" font-size="11.0" font-weight="normal" text-anchor="middle" textLength="10.8" lengthAdjust="spacingAndGlyphs" stroke="#000" stroke-width="0.28">60</text>
<text x="240.4" y="321.3" font-size="11.0" font-weight="normal" text-anchor="middle" textLength="10.8" lengthAdjust="spacingAndGlyphs" stroke="#000" stroke-width="0.28">70</text>
<text x="270.8" y="321.3" font-size="11.0" font-weight="normal" text-anchor="middle" textLength="10.8" lengthAdjust="spacingAndGlyphs" stroke="#000" stroke-width="0.28">80</text>
<text x="301.2" y="321.3" font-size="11.0" font-weight="normal" text-anchor="middle" textLength="10.8" lengthAdjust="spacingAndGlyphs" stroke="#000" stroke-width="0.28">90</text>
<text x="332.3" y="321.3" font-size="11.0" font-weight="normal" text-anchor="middle" textLength="16.3" lengthAdjust="spacingAndGlyphs" stroke="#000" stroke-width="0.28">100</text>
<text x="12.5" y="214.7" font-size="11.0" font-weight="normal" textLength="10.0" lengthAdjust="spacingAndGlyphs" stroke="#000" stroke-width="0.28">10</text>
<text x="23.3" y="209.8" font-size="8.0" font-weight="normal" textLength="4.0" lengthAdjust="spacingAndGlyphs" stroke="#000" stroke-width="0.28">5</text>
<text x="12.5" y="258.2" font-size="11.0" font-weight="normal" textLength="10.0" lengthAdjust="spacingAndGlyphs" stroke="#000" stroke-width="0.28">10</text>
<text x="23.0" y="253.5" font-size="8.0" font-weight="normal" textLength="4.3" lengthAdjust="spacingAndGlyphs" stroke="#000" stroke-width="0.28">0</text>
<text x="12.5" y="301.4" font-size="11.0" font-weight="normal" textLength="10.0" lengthAdjust="spacingAndGlyphs" stroke="#000" stroke-width="0.28">10</text>
<text x="22.1" y="296.5" font-size="8.0" font-weight="normal" textLength="5.2" lengthAdjust="spacingAndGlyphs" stroke="#000" stroke-width="0.28">-5</text>
<text x="0" y="0" font-size="11.5" stroke="#000" stroke-width="0.12" text-anchor="middle" textLength="31.0" lengthAdjust="spacingAndGlyphs" transform="translate(8.9,247.5) rotate(-90)">Fitness</text>
<text x="171.2" y="331.9" font-size="11.5" font-weight="normal" textLength="36.9" lengthAdjust="spacingAndGlyphs" stroke="#000" stroke-width="0.18">Iteration</text>
<text x="166.9" y="345.0" font-size="11.5" font-weight="normal" textLength="32.7" lengthAdjust="spacingAndGlyphs" stroke="#000" stroke-width="0.18">(c) F12</text>
<line x1="372.8" y1="291.7" x2="674.1" y2="291.7" stroke="#d0d0d0" stroke-width="1.1" stroke-dasharray="0.9 1.4"/>
<line x1="372.8" y1="282.3" x2="674.1" y2="282.3" stroke="#d0d0d0" stroke-width="1.1" stroke-dasharray="0.9 1.4"/>
<line x1="372.8" y1="275.7" x2="674.1" y2="275.7" stroke="#d0d0d0" stroke-width="1.1" stroke-dasharray="0.9 1.4"/>
<line x1="372.8" y1="270.5" x2="674.1" y2="270.5" stroke="#d0d0d0" stroke-width="1.1" stroke-dasharray="0.9 1.4"/>
<line x1="372.8" y1="266.3" x2="674.1" y2="266.3" stroke="#d0d0d0" stroke-width="1.1" stroke-dasharray="0.9 1.4"/>
<line x1="372.8" y1="262.7" x2="674.1" y2="262.7" stroke="#d0d0d0" stroke-width="1.1" stroke-dasharray="0.9 1.4"/>
<line x1="372.8" y1="259.7" x2="674.1" y2="259.7" stroke="#d0d0d0" stroke-width="1.1" stroke-dasharray="0.9 1.4"/>
<line x1="372.8" y1="256.9" x2="674.1" y2="256.9" stroke="#d0d0d0" stroke-width="1.1" stroke-dasharray="0.9 1.4"/>
<line x1="372.8" y1="238.5" x2="674.1" y2="238.5" stroke="#d0d0d0" stroke-width="1.1" stroke-dasharray="0.9 1.4"/>
<line x1="372.8" y1="229.1" x2="674.1" y2="229.1" stroke="#d0d0d0" stroke-width="1.1" stroke-dasharray="0.9 1.4"/>
<line x1="372.8" y1="222.5" x2="674.1" y2="222.5" stroke="#d0d0d0" stroke-width="1.1" stroke-dasharray="0.9 1.4"/>
<line x1="372.8" y1="217.3" x2="674.1" y2="217.3" stroke="#d0d0d0" stroke-width="1.1" stroke-dasharray="0.9 1.4"/>
<line x1="372.8" y1="213.1" x2="674.1" y2="213.1" stroke="#d0d0d0" stroke-width="1.1" stroke-dasharray="0.9 1.4"/>
<line x1="372.8" y1="209.5" x2="674.1" y2="209.5" stroke="#d0d0d0" stroke-width="1.1" stroke-dasharray="0.9 1.4"/>
<line x1="372.8" y1="206.5" x2="674.1" y2="206.5" stroke="#d0d0d0" stroke-width="1.1" stroke-dasharray="0.9 1.4"/>
<line x1="372.8" y1="203.7" x2="674.1" y2="203.7" stroke="#d0d0d0" stroke-width="1.1" stroke-dasharray="0.9 1.4"/>
<line x1="372.8" y1="185.3" x2="674.1" y2="185.3" stroke="#d0d0d0" stroke-width="1.1" stroke-dasharray="0.9 1.4"/>
<line x1="372.8" y1="175.9" x2="674.1" y2="175.9" stroke="#d0d0d0" stroke-width="1.1" stroke-dasharray="0.9 1.4"/>
<line x1="372.8" y1="254.5" x2="674.1" y2="254.5" stroke="#bcbcbc" stroke-width="1.25"/>
<line x1="372.8" y1="201.3" x2="674.1" y2="201.3" stroke="#bcbcbc" stroke-width="1.25"/>
<line x1="400.2" y1="175.2" x2="400.2" y2="307.7" stroke="#a8a8a8" stroke-width="1.05"/>
<line x1="430.6" y1="175.2" x2="430.6" y2="307.7" stroke="#a8a8a8" stroke-width="1.05"/>
<line x1="461.0" y1="175.2" x2="461.0" y2="307.7" stroke="#a8a8a8" stroke-width="1.05"/>
<line x1="491.5" y1="175.2" x2="491.5" y2="307.7" stroke="#a8a8a8" stroke-width="1.05"/>
<line x1="521.9" y1="175.2" x2="521.9" y2="307.7" stroke="#a8a8a8" stroke-width="1.05"/>
<line x1="552.3" y1="175.2" x2="552.3" y2="307.7" stroke="#a8a8a8" stroke-width="1.05"/>
<line x1="582.8" y1="175.2" x2="582.8" y2="307.7" stroke="#a8a8a8" stroke-width="1.05"/>
<line x1="613.2" y1="175.2" x2="613.2" y2="307.7" stroke="#a8a8a8" stroke-width="1.05"/>
<line x1="643.6" y1="175.2" x2="643.6" y2="307.7" stroke="#a8a8a8" stroke-width="1.05"/>
<line x1="372.8" y1="175.2" x2="674.1" y2="175.2" stroke="#c4c4c4" stroke-width="1.7"/>
<line x1="372.8" y1="307.7" x2="674.1" y2="307.7" stroke="#c4c4c4" stroke-width="1.7"/>
<line x1="372.8" y1="175.2" x2="372.8" y2="307.7" stroke="#9a9a9a" stroke-width="1"/>
<line x1="674.1" y1="175.2" x2="674.1" y2="307.7" stroke="#9a9a9a" stroke-width="1"/>
<line x1="372.8" y1="307.7" x2="375.8" y2="307.7" stroke="#666" stroke-width="1"/>
<line x1="671.1" y1="307.7" x2="674.1" y2="307.7" stroke="#666" stroke-width="1"/>
<line x1="372.8" y1="254.5" x2="375.8" y2="254.5" stroke="#666" stroke-width="1"/>
<line x1="671.1" y1="254.5" x2="674.1" y2="254.5" stroke="#666" stroke-width="1"/>
<line x1="372.8" y1="201.3" x2="375.8" y2="201.3" stroke="#666" stroke-width="1"/>
<line x1="671.1" y1="201.3" x2="674.1" y2="201.3" stroke="#666" stroke-width="1"/>
<line x1="372.8" y1="291.7" x2="374.6" y2="291.7" stroke="#777" stroke-width="0.9"/>
<line x1="672.3" y1="291.7" x2="674.1" y2="291.7" stroke="#777" stroke-width="0.9"/>
<line x1="372.8" y1="282.3" x2="374.6" y2="282.3" stroke="#777" stroke-width="0.9"/>
<line x1="672.3" y1="282.3" x2="674.1" y2="282.3" stroke="#777" stroke-width="0.9"/>
<line x1="372.8" y1="275.7" x2="374.6" y2="275.7" stroke="#777" stroke-width="0.9"/>
<line x1="672.3" y1="275.7" x2="674.1" y2="275.7" stroke="#777" stroke-width="0.9"/>
<line x1="372.8" y1="270.5" x2="374.6" y2="270.5" stroke="#777" stroke-width="0.9"/>
<line x1="672.3" y1="270.5" x2="674.1" y2="270.5" stroke="#777" stroke-width="0.9"/>
<line x1="372.8" y1="266.3" x2="374.6" y2="266.3" stroke="#777" stroke-width="0.9"/>
<line x1="672.3" y1="266.3" x2="674.1" y2="266.3" stroke="#777" stroke-width="0.9"/>
<line x1="372.8" y1="262.7" x2="374.6" y2="262.7" stroke="#777" stroke-width="0.9"/>
<line x1="672.3" y1="262.7" x2="674.1" y2="262.7" stroke="#777" stroke-width="0.9"/>
<line x1="372.8" y1="259.7" x2="374.6" y2="259.7" stroke="#777" stroke-width="0.9"/>
<line x1="672.3" y1="259.7" x2="674.1" y2="259.7" stroke="#777" stroke-width="0.9"/>
<line x1="372.8" y1="256.9" x2="374.6" y2="256.9" stroke="#777" stroke-width="0.9"/>
<line x1="672.3" y1="256.9" x2="674.1" y2="256.9" stroke="#777" stroke-width="0.9"/>
<line x1="372.8" y1="238.5" x2="374.6" y2="238.5" stroke="#777" stroke-width="0.9"/>
<line x1="672.3" y1="238.5" x2="674.1" y2="238.5" stroke="#777" stroke-width="0.9"/>
<line x1="372.8" y1="229.1" x2="374.6" y2="229.1" stroke="#777" stroke-width="0.9"/>
<line x1="672.3" y1="229.1" x2="674.1" y2="229.1" stroke="#777" stroke-width="0.9"/>
<line x1="372.8" y1="222.5" x2="374.6" y2="222.5" stroke="#777" stroke-width="0.9"/>
<line x1="672.3" y1="222.5" x2="674.1" y2="222.5" stroke="#777" stroke-width="0.9"/>
<line x1="372.8" y1="217.3" x2="374.6" y2="217.3" stroke="#777" stroke-width="0.9"/>
<line x1="672.3" y1="217.3" x2="674.1" y2="217.3" stroke="#777" stroke-width="0.9"/>
<line x1="372.8" y1="213.1" x2="374.6" y2="213.1" stroke="#777" stroke-width="0.9"/>
<line x1="672.3" y1="213.1" x2="674.1" y2="213.1" stroke="#777" stroke-width="0.9"/>
<line x1="372.8" y1="209.5" x2="374.6" y2="209.5" stroke="#777" stroke-width="0.9"/>
<line x1="672.3" y1="209.5" x2="674.1" y2="209.5" stroke="#777" stroke-width="0.9"/>
<line x1="372.8" y1="206.5" x2="374.6" y2="206.5" stroke="#777" stroke-width="0.9"/>
<line x1="672.3" y1="206.5" x2="674.1" y2="206.5" stroke="#777" stroke-width="0.9"/>
<line x1="372.8" y1="203.7" x2="374.6" y2="203.7" stroke="#777" stroke-width="0.9"/>
<line x1="672.3" y1="203.7" x2="674.1" y2="203.7" stroke="#777" stroke-width="0.9"/>
<line x1="372.8" y1="185.3" x2="374.6" y2="185.3" stroke="#777" stroke-width="0.9"/>
<line x1="672.3" y1="185.3" x2="674.1" y2="185.3" stroke="#777" stroke-width="0.9"/>
<line x1="372.8" y1="175.9" x2="374.6" y2="175.9" stroke="#777" stroke-width="0.9"/>
<line x1="672.3" y1="175.9" x2="674.1" y2="175.9" stroke="#777" stroke-width="0.9"/>
<line x1="400.2" y1="304.7" x2="400.2" y2="307.7" stroke="#777" stroke-width="1"/>
<line x1="400.2" y1="175.2" x2="400.2" y2="178.2" stroke="#777" stroke-width="1"/>
<line x1="430.6" y1="304.7" x2="430.6" y2="307.7" stroke="#777" stroke-width="1"/>
<line x1="430.6" y1="175.2" x2="430.6" y2="178.2" stroke="#777" stroke-width="1"/>
<line x1="461.0" y1="304.7" x2="461.0" y2="307.7" stroke="#777" stroke-width="1"/>
<line x1="461.0" y1="175.2" x2="461.0" y2="178.2" stroke="#777" stroke-width="1"/>
<line x1="491.5" y1="304.7" x2="491.5" y2="307.7" stroke="#777" stroke-width="1"/>
<line x1="491.5" y1="175.2" x2="491.5" y2="178.2" stroke="#777" stroke-width="1"/>
<line x1="521.9" y1="304.7" x2="521.9" y2="307.7" stroke="#777" stroke-width="1"/>
<line x1="521.9" y1="175.2" x2="521.9" y2="178.2" stroke="#777" stroke-width="1"/>
<line x1="552.3" y1="304.7" x2="552.3" y2="307.7" stroke="#777" stroke-width="1"/>
<line x1="552.3" y1="175.2" x2="552.3" y2="178.2" stroke="#777" stroke-width="1"/>
<line x1="582.8" y1="304.7" x2="582.8" y2="307.7" stroke="#777" stroke-width="1"/>
<line x1="582.8" y1="175.2" x2="582.8" y2="178.2" stroke="#777" stroke-width="1"/>
<line x1="613.2" y1="304.7" x2="613.2" y2="307.7" stroke="#777" stroke-width="1"/>
<line x1="613.2" y1="175.2" x2="613.2" y2="178.2" stroke="#777" stroke-width="1"/>
<line x1="643.6" y1="304.7" x2="643.6" y2="307.7" stroke="#777" stroke-width="1"/>
<line x1="643.6" y1="175.2" x2="643.6" y2="178.2" stroke="#777" stroke-width="1"/>
<polyline points="372.8,245.3 378.0,246.0 379.4,248.0 380.9,254.6 381.9,255.6 454.4,255.7 457.6,257.4 674.1,257.5" fill="none" stroke="#ff1a1a" stroke-width="1.5" stroke-linejoin="round" stroke-linecap="butt"/>
<polyline points="373.2,175.4 373.7,184.0 373.4,190.0 374.9,228.3 376.6,233.4 377.5,241.4 378.9,248.2 381.8,248.8 384.6,254.2 388.2,254.4 391.4,270.0 394.0,277.8 404.3,278.3 407.8,279.5 409.5,282.5 460.8,282.6 464.1,287.4 473.8,288.0 477.1,289.7 483.6,290.2 485.7,291.9 500.0,292.3 674.1,292.3" fill="none" stroke="#1a1aff" stroke-width="1.5" stroke-linejoin="round" stroke-linecap="butt"/>
<polyline points="373.2,176.8 375.8,182.4 376.7,198.0 377.5,214.5 379.2,231.7 380.5,236.5 382.2,241.2 388.0,241.5 391.0,247.4 394.8,251.8 400.0,252.7 404.3,255.3 408.7,261.3 415.4,262.5 418.7,268.5 424.1,269.6 427.3,280.4 430.6,289.1 436.0,291.3 443.5,291.9 451.1,293.4 454.4,298.8 457.6,301.0 466.3,301.6 472.7,303.2 483.6,303.8 501.5,303.8 508.0,305.3 674.1,305.3" fill="none" stroke="#1aff1a" stroke-width="1.5" stroke-linejoin="round" stroke-linecap="butt"/>
<polyline points="372.8,186.9 374.9,228.0 375.8,232.0 378.4,234.5 379.8,240.6 380.5,256.0 381.8,271.4 574.0,271.4 577.3,280.8 580.3,282.7 674.1,282.7" fill="none" stroke="#262626" stroke-width="1.5" stroke-linejoin="round" stroke-linecap="butt"/>
<polyline points="372.8,228.5 374.9,251.0 376.5,270.0 377.7,288.1 378.9,304.5 380.7,307.5 674.1,307.5" fill="none" stroke="#1affff" stroke-width="1.5" stroke-linejoin="round" stroke-linecap="butt"/>
<rect x="411.1" y="180.9" width="260.0" height="11.8" fill="#fff" stroke="#a0a0a0" stroke-width="0.9"/>
<line x1="413.2" y1="186.5" x2="437.3" y2="186.5" stroke="#ff1a1a" stroke-width="1.5"/>
<line x1="467.3" y1="186.5" x2="492.9" y2="186.5" stroke="#1a1aff" stroke-width="1.5"/>
<line x1="517.4" y1="186.5" x2="540.9" y2="186.5" stroke="#1aff1a" stroke-width="1.5"/>
<line x1="568.9" y1="186.5" x2="592.2" y2="186.5" stroke="#262626" stroke-width="1.5"/>
<line x1="618.0" y1="186.5" x2="641.9" y2="186.5" stroke="#1affff" stroke-width="1.5"/>
<text x="440.3" y="191.0" font-size="11.5" font-weight="normal" textLength="27.2" lengthAdjust="spacingAndGlyphs" stroke="#000" stroke-width="0.28">GWO</text>
<text x="494.8" y="191.0" font-size="11.5" font-weight="normal" textLength="20.8" lengthAdjust="spacingAndGlyphs" stroke="#000" stroke-width="0.28">PSO</text>
<text x="542.3" y="191.0" font-size="11.5" font-weight="normal" textLength="25.3" lengthAdjust="spacingAndGlyphs" stroke="#000" stroke-width="0.28">WO&#923;</text>
<text x="594.0" y="191.0" font-size="11.5" font-weight="normal" textLength="23.1" lengthAdjust="spacingAndGlyphs" stroke="#000" stroke-width="0.28">&#923;O&#923;</text>
<text x="642.9" y="191.0" font-size="11.5" font-weight="normal" textLength="27.6" lengthAdjust="spacingAndGlyphs" stroke="#000" stroke-width="0.28">I&#923;O&#923;</text>
<text x="402.4" y="321.1" font-size="11.0" font-weight="normal" text-anchor="middle" textLength="10.8" lengthAdjust="spacingAndGlyphs" stroke="#000" stroke-width="0.28">10</text>
<text x="432.8" y="321.1" font-size="11.0" font-weight="normal" text-anchor="middle" textLength="10.8" lengthAdjust="spacingAndGlyphs" stroke="#000" stroke-width="0.28">20</text>
<text x="463.2" y="321.1" font-size="11.0" font-weight="normal" text-anchor="middle" textLength="10.8" lengthAdjust="spacingAndGlyphs" stroke="#000" stroke-width="0.28">30</text>
<text x="493.7" y="321.1" font-size="11.0" font-weight="normal" text-anchor="middle" textLength="10.8" lengthAdjust="spacingAndGlyphs" stroke="#000" stroke-width="0.28">40</text>
<text x="524.1" y="321.1" font-size="11.0" font-weight="normal" text-anchor="middle" textLength="10.8" lengthAdjust="spacingAndGlyphs" stroke="#000" stroke-width="0.28">50</text>
<text x="554.5" y="321.1" font-size="11.0" font-weight="normal" text-anchor="middle" textLength="10.8" lengthAdjust="spacingAndGlyphs" stroke="#000" stroke-width="0.28">60</text>
<text x="585.0" y="321.1" font-size="11.0" font-weight="normal" text-anchor="middle" textLength="10.8" lengthAdjust="spacingAndGlyphs" stroke="#000" stroke-width="0.28">70</text>
<text x="615.4" y="321.1" font-size="11.0" font-weight="normal" text-anchor="middle" textLength="10.8" lengthAdjust="spacingAndGlyphs" stroke="#000" stroke-width="0.28">80</text>
<text x="645.8" y="321.1" font-size="11.0" font-weight="normal" text-anchor="middle" textLength="10.8" lengthAdjust="spacingAndGlyphs" stroke="#000" stroke-width="0.28">90</text>
<text x="677.0" y="321.1" font-size="11.0" font-weight="normal" text-anchor="middle" textLength="16.3" lengthAdjust="spacingAndGlyphs" stroke="#000" stroke-width="0.28">100</text>
<text x="357.2" y="207.3" font-size="11.0" font-weight="normal" textLength="10.3" lengthAdjust="spacingAndGlyphs" stroke="#000" stroke-width="0.28">10</text>
<text x="367.7" y="202.4" font-size="8.0" font-weight="normal" textLength="4.3" lengthAdjust="spacingAndGlyphs" stroke="#000" stroke-width="0.28">2</text>
<text x="357.2" y="260.8" font-size="11.0" font-weight="normal" textLength="9.4" lengthAdjust="spacingAndGlyphs" stroke="#000" stroke-width="0.28">10</text>
<text x="368.2" y="256.5" font-size="8.0" font-weight="normal" textLength="2.9" lengthAdjust="spacingAndGlyphs" stroke="#000" stroke-width="0.28">1</text>
<text x="356.9" y="314.0" font-size="11.0" font-weight="normal" textLength="10.6" lengthAdjust="spacingAndGlyphs" stroke="#000" stroke-width="0.28">10</text>
<text x="367.7" y="309.7" font-size="8.0" font-weight="normal" textLength="4.6" lengthAdjust="spacingAndGlyphs" stroke="#000" stroke-width="0.28">0</text>
<text x="0" y="0" font-size="11.5" stroke="#000" stroke-width="0.12" text-anchor="middle" textLength="30.7" lengthAdjust="spacingAndGlyphs" transform="translate(355.7,247.9) rotate(-90)">Fitness</text>
<text x="515.7" y="331.9" font-size="11.5" font-weight="normal" textLength="37.2" lengthAdjust="spacingAndGlyphs" stroke="#000" stroke-width="0.18">Iteration</text>
<text x="514.8" y="345.0" font-size="11.5" font-weight="normal" textLength="32.1" lengthAdjust="spacingAndGlyphs" stroke="#000" stroke-width="0.18">(d) F14</text>
</svg>
</body></html>
